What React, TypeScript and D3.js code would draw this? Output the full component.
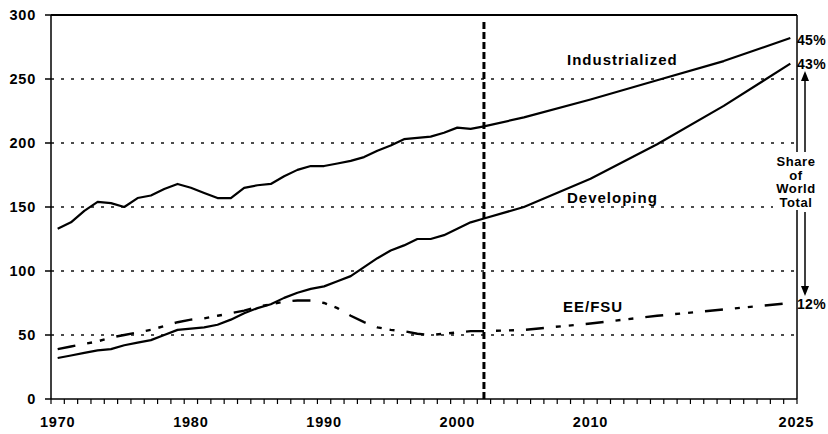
import * as d3 from 'd3';

// years: history 1970-2002, projections 2005-2025
const histYears = d3.range(1970, 2003);
const projYears = [2005, 2010, 2015, 2020, 2025];
const years = [...histYears, ...projYears];

const industrialized = [
  133, 138, 147, 154, 153, 150, 157, 159, 164, 168,
  165, 161, 157, 157, 165, 167, 168, 174, 179, 182,
  182, 184, 186, 189, 194, 198, 203, 204, 205, 208,
  212, 211, 213,
  220, 234, 249, 264, 282,
];

const developing = [
  32, 34, 36, 38, 39, 42, 44, 46, 50, 54,
  55, 56, 58, 62, 67, 71, 74, 79, 83, 86,
  88, 92, 96, 103, 110, 116, 120, 125, 125, 128,
  133, 138, 141,
  150, 172, 199, 229, 262,
];

const eeFsu = [
  39, 41, 43, 45, 48, 50, 52, 54, 57, 60,
  62, 63, 65, 67, 69, 72, 74, 76, 77, 77,
  75, 71, 65, 60, 56, 54, 53, 51, 50, 51,
  52, 53, 53,
  54, 59, 65, 70, 75,
];

const yTicks = [0, 50, 100, 150, 200, 250, 300];
const gridValues = [50, 100, 150, 200, 250];
const xLabels = [1970, 1980, 1990, 2000, 2010, 2025];
const historyEnd = 2002;

const FONT = '"Liberation Sans", Arial, sans-serif';

export default function App() {
  const width = 828;
  const height = 434;
  const left = 51, right = 797, top = 15, bottom = 399;

  const x = d3.scaleLinear().domain([1969.5, 2025.5]).range([left, right]);
  const y = d3.scaleLinear().domain([0, 300]).range([bottom, top]);

  const line = d3.line<number>()
    .x((_, i) => x(years[i]))
    .y(d => y(d));

  const tickYears = d3.range(1969.5, 2026, 1);
  const ax = 805; // share arrow

  return (
    <svg width={width} height={height} style={{ position: 'absolute', left: 0, top: 0, background: '#fff' }}
      fontFamily={FONT} fontWeight="bold">
      {/* gridlines */}
      {gridValues.map(v => (
        <line key={v} x1={left} x2={right} y1={y(v)} y2={y(v)}
          stroke="#111" strokeWidth={1.3} strokeDasharray="3,7" />
      ))}

      {/* frame */}
      <line x1={left} x2={right} y1={top} y2={top} stroke="#000" strokeWidth={2} />
      <line x1={right} x2={right} y1={top} y2={bottom} stroke="#000" strokeWidth={1.5} />
      <line x1={left} x2={left} y1={top} y2={bottom} stroke="#000" strokeWidth={1.5} />
      <line x1={left} x2={right} y1={bottom} y2={bottom} stroke="#000" strokeWidth={1.5} />

      {/* y axis */}
      {yTicks.map(v => (
        <g key={v}>
          <line x1={left - 6} x2={left} y1={y(v)} y2={y(v)} stroke="#000" strokeWidth={1.5} />
          <text x={36} y={y(v) + 5} textAnchor="end" fontSize={14.5} letterSpacing={0.8}>{v}</text>
        </g>
      ))}

      {/* x axis */}
      {tickYears.map(t => (
        <line key={t} x1={x(t)} x2={x(t)} y1={bottom} y2={bottom + 5} stroke="#000" strokeWidth={1.2} />
      ))}
      {xLabels.map(t => (
        <text key={t} x={t === 2025 ? x(t) + 6 : x(t)} y={427} textAnchor="middle" fontSize={14.5} letterSpacing={0.8}>{t}</text>
      ))}

      {/* history / projection divider */}
      <line x1={x(historyEnd)} x2={x(historyEnd)} y1={22} y2={bottom} stroke="#000" strokeWidth={3} strokeDasharray="7,3" />

      {/* series */}
      <path d={line(industrialized) ?? ''} fill="none" stroke="#000" strokeWidth={2.2} strokeLinejoin="round" />
      <path d={line(developing) ?? ''} fill="none" stroke="#000" strokeWidth={2.2} strokeLinejoin="round" />
      <path d={line(eeFsu) ?? ''} fill="none" stroke="#000" strokeWidth={2.4} strokeDasharray="18,12,5,8,5,12" />

      {/* series labels */}
      <text x={567} y={65} fontSize={15} letterSpacing={1}>Industrialized</text>
      <text x={567} y={203} fontSize={15} letterSpacing={1}>Developing</text>
      <text x={563} y={312} fontSize={15} letterSpacing={1}>EE/FSU</text>

      {/* shares */}
      <text x={797} y={45} fontSize={14} letterSpacing={0.3}>45%</text>
      <text x={797} y={69} fontSize={14} letterSpacing={0.3}>43%</text>
      <text x={797} y={309} fontSize={14} letterSpacing={0.3}>12%</text>

      {/* share arrow */}
      <line x1={ax} x2={ax} y1={80} y2={155} stroke="#000" strokeWidth={1.5} />
      <path d={`M${ax},71 L${ax - 4},81 L${ax + 4},81 Z`} fill="#000" />
      <line x1={ax} x2={ax} y1={212} y2={287} stroke="#000" strokeWidth={1.5} />
      <path d={`M${ax},296 L${ax - 4},286 L${ax + 4},286 Z`} fill="#000" />

      <rect x={773} y={152} width={46} height={58} fill="#fff" />
      {['Share', 'of', 'World', 'Total'].map((s, i) => (
        <text key={s} x={796} y={166 + i * 13.5} textAnchor="middle" fontSize={13} letterSpacing={0.6}>{s}</text>
      ))}
    </svg>
  );
}
